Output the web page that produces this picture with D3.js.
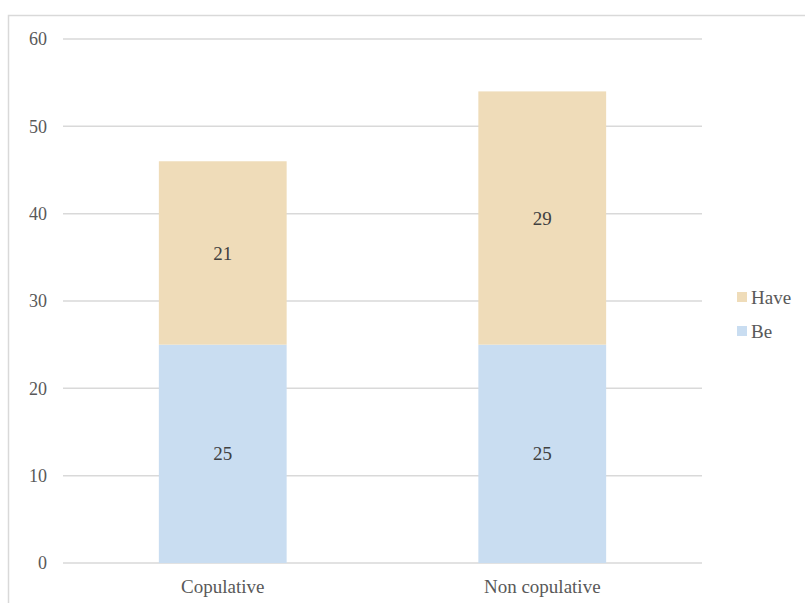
<!DOCTYPE html>
<html>
<head>
<meta charset="utf-8">
<script src="https://cdn.jsdelivr.net/npm/d3@7"></script>
<style>
  html, body { margin: 0; padding: 0; background: #fff; }
</style>
</head>
<body>
<svg id="chart" width="805" height="603"></svg>
<script>
// Stacked counts of auxiliary choice per verb class
const categories = ["Copulative", "Non copulative"];
const seriesNames = ["Be", "Have"];
const beValues = [25, 25];
const haveValues = [21, 29];
const yTicks = [0, 10, 20, 30, 40, 50, 60];
const colors = { Be: "#c9ddf1", Have: "#efdcb9" };
const serif = "Liberation Serif";

const rows = categories.map((c, i) => ({ category: c, Be: beValues[i], Have: haveValues[i] }));

const svg = d3.select("#chart");
const margin = { left: 63, right: 103, top: 39, bottom: 40 };
const W = 805, H = 603;

// outer frame
svg.append("rect")
  .attr("x", 8.5).attr("y", 15.5)
  .attr("width", 820).attr("height", 620)
  .attr("fill", "none").attr("stroke", "#d9d9d9").attr("stroke-width", 1.5);

const x = d3.scaleBand()
  .domain(categories)
  .range([margin.left, W - margin.right])
  .paddingInner(0.6).paddingOuter(0.3);

const y = d3.scaleLinear()
  .domain([0, 60])
  .range([H - margin.bottom, margin.top]);

// gridlines
svg.append("g")
  .selectAll("line")
  .data(yTicks)
  .join("line")
  .attr("x1", margin.left).attr("x2", W - margin.right)
  .attr("y1", d => y(d)).attr("y2", d => y(d))
  .attr("stroke", "#d9d9d9").attr("stroke-width", 1.5);

// y axis labels
const yAxis = svg.append("g")
  .attr("transform", `translate(${margin.left},0)`)
  .call(d3.axisLeft(y).tickValues(yTicks).tickSize(0).tickPadding(16))
  .attr("font-family", serif).attr("font-size", 18);
yAxis.select(".domain").remove();
yAxis.selectAll("text").attr("fill", "#595959");

// x axis labels
const xAxis = svg.append("g")
  .attr("transform", `translate(0,${y(0)})`)
  .call(d3.axisBottom(x).tickSize(0).tickPadding(17))
  .attr("font-family", serif).attr("font-size", 19);
xAxis.select(".domain").remove();
xAxis.selectAll("text").attr("fill", "#595959");

// stacked bars
const stack = d3.stack().keys(seriesNames)(rows);
const layers = svg.append("g")
  .attr("font-family", serif).attr("font-size", 19)
  .selectAll("g")
  .data(stack)
  .join("g")
  .attr("fill", d => colors[d.key]);

layers.selectAll("rect")
  .data(d => d)
  .join("rect")
  .attr("x", d => x(d.data.category))
  .attr("width", x.bandwidth())
  .attr("y", d => y(d[1]))
  .attr("height", d => y(d[0]) - y(d[1]));

// value labels
layers.selectAll("text")
  .data(d => d)
  .join("text")
  .attr("x", d => x(d.data.category) + x.bandwidth() / 2)
  .attr("y", d => (y(d[0]) + y(d[1])) / 2)
  .attr("dy", "0.35em")
  .attr("text-anchor", "middle")
  .attr("fill", "#404040")
  .text(d => d[1] - d[0]);

// legend (Have above Be)
const legendItems = ["Have", "Be"];
const legend = svg.append("g")
  .attr("font-family", serif).attr("font-size", 19)
  .selectAll("g")
  .data(legendItems)
  .join("g")
  .attr("transform", (d, i) => `translate(737,${297 + i * 34})`);
legend.append("rect")
  .attr("x", 0).attr("y", -5)
  .attr("width", 10).attr("height", 10)
  .attr("fill", d => colors[d]);
legend.append("text")
  .attr("x", 14).attr("y", 0).attr("dy", "0.35em")
  .attr("fill", "#595959")
  .text(d => d);
</script>
</body>
</html>
